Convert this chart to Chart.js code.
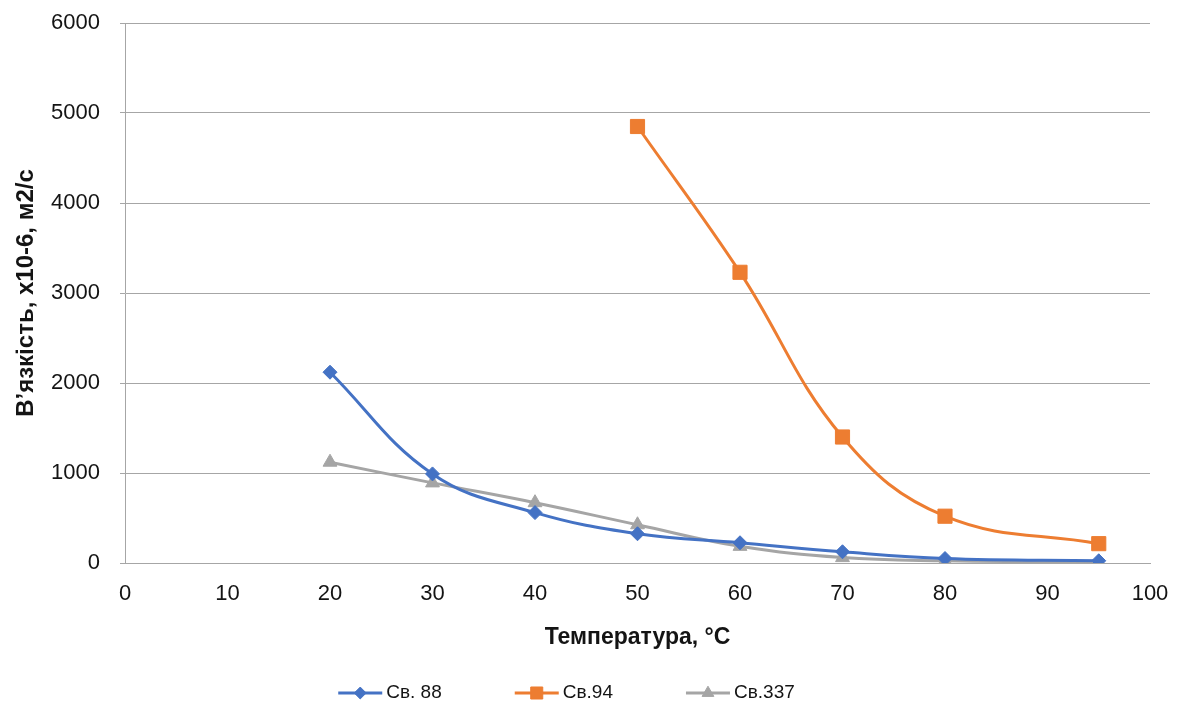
<!DOCTYPE html>
<html>
<head>
<meta charset="utf-8">
<script src="https://cdn.jsdelivr.net/npm/chart.js@4.4.1/dist/chart.umd.min.js"></script>
<style>
  html, body { margin: 0; padding: 0; background: #ffffff; }
  canvas { display: block; }
</style>
</head>
<body>
<canvas id="chart" width="1181" height="705"></canvas>
<script>
// Viscosity vs temperature for three samples
const seriesNames = ['Св. 88', 'Св.94', 'Св.337'];

const temps88 = [20, 30, 40, 50, 60, 70, 80, 95];
const visc88 = [2120, 990, 560, 325, 225, 125, 50, 25];

const temps94 = [50, 60, 70, 80, 95];
const visc94 = [4850, 3230, 1400, 520, 215];

const temps337 = [20, 30, 40, 50, 60, 70, 80, 95];
const visc337 = [1120, 890, 670, 425, 185, 60, 25, 10];

const xTickValues = [0, 10, 20, 30, 40, 50, 60, 70, 80, 90, 100];
const yTickValues = [0, 1000, 2000, 3000, 4000, 5000, 6000];

const xTitle = 'Температура, °C';
const yTitle = 'В’язкість, х10-6, м2/с';

const colors = ['#4472C4', '#ED7D31', '#A5A5A5'];
const pointStyles = ['rectRot', 'rect', 'triangle'];
const pointRadii = [7, 10, 8];
const gridColor = '#a6a6a6';
const textColor = '#141414';
const fontFamily = '"Liberation Sans", Arial, sans-serif';

function toPoints(xs, ys) {
  return xs.map((x, i) => ({ x: x, y: ys[i] }));
}

const seriesData = [
  toPoints(temps88, visc88),
  toPoints(temps94, visc94),
  toPoints(temps337, visc337)
];

const datasets = seriesData.map((pts, i) => ({
  label: seriesNames[i],
  data: pts,
  borderColor: colors[i],
  backgroundColor: colors[i],
  borderWidth: 3,
  pointStyle: pointStyles[i],
  pointRadius: pointRadii[i],
  pointHoverRadius: pointRadii[i],
  pointBorderWidth: 1,
  pointBackgroundColor: colors[i],
  pointBorderColor: colors[i],
  tension: 0.4,
  fill: false
}));

// Legend: short line with the series marker, followed by the name
const lineLegend = {
  id: 'lineLegend',
  afterDraw(chart) {
    const ctx = chart.ctx;
    const lineLen = 44, gap = 4, spacing = 73;
    ctx.save();
    ctx.font = '19px ' + fontFamily;
    const items = chart.data.datasets.map(ds => ({ ds: ds, w: ctx.measureText(ds.label).width }));
    const total = items.reduce((s, it) => s + lineLen + gap + it.w, 0) + spacing * (items.length - 1);
    let x = chart.width / 2 - 24 - total / 2;
    const y = 693;
    items.forEach(it => {
      const ds = it.ds;
      ctx.strokeStyle = ds.borderColor;
      ctx.lineWidth = 3;
      ctx.beginPath();
      ctx.moveTo(x, y);
      ctx.lineTo(x + lineLen, y);
      ctx.stroke();
      ctx.fillStyle = ds.backgroundColor;
      ctx.strokeStyle = ds.borderColor;
      ctx.lineWidth = 1;
      Chart.helpers.drawPoint(ctx, {
        pointStyle: ds.pointStyle,
        radius: ds.pointRadius * 0.85,
        rotation: 0,
        borderWidth: 1
      }, x + lineLen / 2, y);
      ctx.fillStyle = textColor;
      ctx.textAlign = 'left';
      ctx.textBaseline = 'middle';
      ctx.fillText(ds.label, x + lineLen + gap, y);
      x += lineLen + gap + it.w + spacing;
    });
    ctx.restore();
  }
};

new Chart(document.getElementById('chart'), {
  type: 'line',
  data: { datasets: datasets },
  plugins: [lineLegend],
  options: {
    responsive: false,
    animation: false,
    events: [],
    layout: { padding: { top: 23, right: 31, bottom: 54, left: 0 } },
    plugins: {
      legend: { display: false },
      tooltip: { enabled: false }
    },
    scales: {
      x: {
        type: 'linear',
        min: xTickValues[0],
        max: xTickValues[xTickValues.length - 1],
        afterBuildTicks(scale) { scale.ticks = xTickValues.map(v => ({ value: v })); },
        afterFit(scale) {
          scale.height = 88;
          scale.paddingLeft = 0;
          scale.paddingRight = 0;
        },
        ticks: {
          padding: 18,
          color: textColor,
          font: { family: fontFamily, size: 22 },
          callback: v => String(v)
        },
        grid: { display: false, drawTicks: false },
        border: { display: true, color: gridColor, width: 1 },
        title: {
          display: true,
          text: xTitle,
          color: textColor,
          font: { family: fontFamily, size: 23, weight: 'bold' },
          padding: { top: 6, bottom: 0 }
        }
      },
      y: {
        min: yTickValues[0],
        max: yTickValues[yTickValues.length - 1],
        afterBuildTicks(scale) { scale.ticks = yTickValues.map(v => ({ value: v })); },
        afterFit(scale) {
          scale.width = 125;
          scale.paddingTop = 0;
          scale.paddingBottom = 0;
        },
        ticks: {
          padding: 20,
          color: textColor,
          font: { family: fontFamily, size: 22 },
          callback: v => String(v)
        },
        grid: { color: gridColor, lineWidth: 1, tickLength: 5 },
        border: { display: true, color: gridColor, width: 1 },
        title: {
          display: true,
          text: yTitle,
          color: textColor,
          font: { family: fontFamily, size: 24, weight: 'bold' },
          padding: { top: 12, bottom: 0 }
        }
      }
    }
  }
});
</script>
</body>
</html>
